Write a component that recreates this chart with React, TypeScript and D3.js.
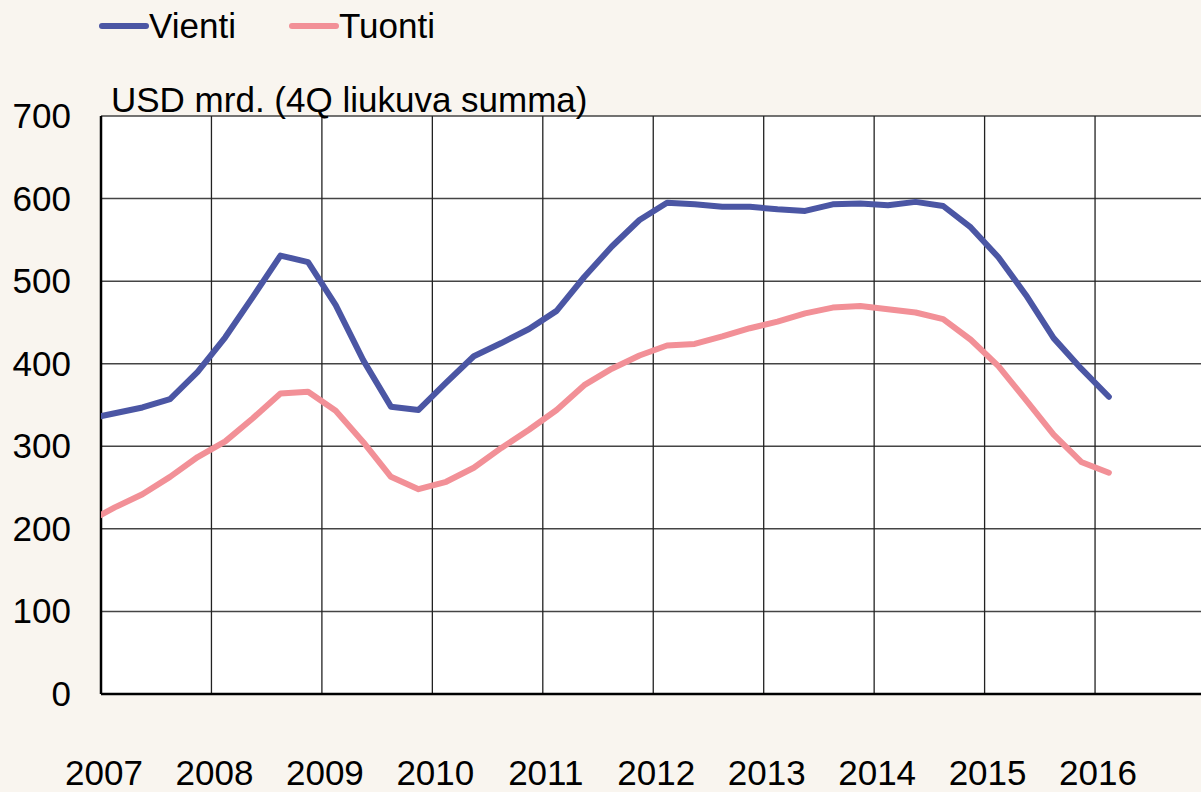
import React from "react";
import * as d3 from "d3";

const yearLabels = ["2007", "2008", "2009", "2010", "2011", "2012", "2013", "2014", "2015", "2016"];
const yTicks = [0, 100, 200, 300, 400, 500, 600, 700];
// quarterly values, first = 2006 Q4, last = 2016 Q1
const startYear = 2006;
const startQuarter = 4;
const vienti = [
  333, 340, 347, 357, 390, 432, 481, 531, 523, 471, 404, 348, 344, 377, 409, 425, 442,
  464, 505, 542, 574, 595, 593, 590, 590, 587, 585, 593, 594, 592, 596, 591, 565,
  529, 483, 431, 394, 360,
];
const tuonti = [
  208, 226, 242, 263, 287, 306, 334, 364, 366, 343, 305, 263, 248, 257, 274, 298, 320,
  344, 374, 394, 410, 422, 424, 433, 443, 451, 461, 468, 470, 466, 462, 454, 429,
  397, 356, 314, 281, 268,
];
const seriesNames = ["Vienti", "Tuonti"];
const seriesColors = ["#4B56A4", "#F29097"];
const axisTitle = "USD mrd. (4Q liukuva summa)";

const W = 1201;
const H = 792;
const left = 101;
const top = 116;
const bottom = 694;
const yearW = 110.45;
const right = left + yearW * 10;

export default function App() {
  const x = d3.scaleLinear().domain([2007, 2017]).range([left, right]);
  const y = d3.scaleLinear().domain([0, 700]).range([bottom, top]);
  const qx = (i: number) => {
    const q = startQuarter - 1 + i;
    return startYear + q / 4 + 0.125;
  };
  const line = d3
    .line<number>()
    .x((_, i) => x(qx(i)))
    .y((d) => y(d));
  const font = "'Liberation Sans', Arial, sans-serif";
  const fs = 35;
  const years = yearLabels.map((l) => +l);
  return (
    <div style={{ position: "fixed", left: 0, top: 0 }}>
      <svg width={W} height={H} style={{ display: "block" }}>
        <defs>
          <clipPath id="plotclip">
            <rect x={left} y={top - 10} width={right - left} height={bottom - top + 10} />
          </clipPath>
        </defs>
        <rect x={0} y={0} width={W} height={H} fill="#F9F5EF" />
        <rect x={left} y={top} width={right - left} height={bottom - top} fill="#FFFFFF" />
        {yTicks.map((t) => (
          <line key={"h" + t} x1={left} x2={right} y1={y(t)} y2={y(t)} stroke="#444" strokeWidth={1.5} />
        ))}
        {years.map((yr) => (
          <line key={"v" + yr} x1={x(yr)} x2={x(yr)} y1={top} y2={bottom} stroke="#222" strokeWidth={1.3} />
        ))}
        <line x1={left} x2={left} y1={top} y2={bottom} stroke="#000" strokeWidth={2.5} />
        <line x1={left} x2={right} y1={bottom} y2={bottom} stroke="#000" strokeWidth={2.5} />
        <g clipPath="url(#plotclip)">
          <path d={line(tuonti) || ""} fill="none" stroke={seriesColors[1]} strokeWidth={6} strokeLinejoin="round" strokeLinecap="round" />
          <path d={line(vienti) || ""} fill="none" stroke={seriesColors[0]} strokeWidth={6} strokeLinejoin="round" strokeLinecap="round" />
        </g>
        {yTicks.map((t) => (
          <text key={"yt" + t} x={71} y={y(t) + 12} textAnchor="end" fontFamily={font} fontSize={fs} fill="#000">
            {t}
          </text>
        ))}
        {yearLabels.map((l, i) => (
          <text key={"xt" + l} x={x(years[i]) + 3} y={785} textAnchor="middle" fontFamily={font} fontSize={fs} fill="#000">
            {l}
          </text>
        ))}
        <text x={111} y={112} fontFamily={font} fontSize={fs} fill="#000">
          {axisTitle}
        </text>
        {seriesNames.map((n, i) => {
          const lx = i === 0 ? 102 : 292;
          return (
            <g key={n}>
              <line x1={lx} x2={lx + 44} y1={26} y2={26} stroke={seriesColors[i]} strokeWidth={6} strokeLinecap="round" />
              <text x={lx + 47} y={38} fontFamily={font} fontSize={fs} fill="#000">
                {n}
              </text>
            </g>
          );
        })}
      </svg>
    </div>
  );
}
